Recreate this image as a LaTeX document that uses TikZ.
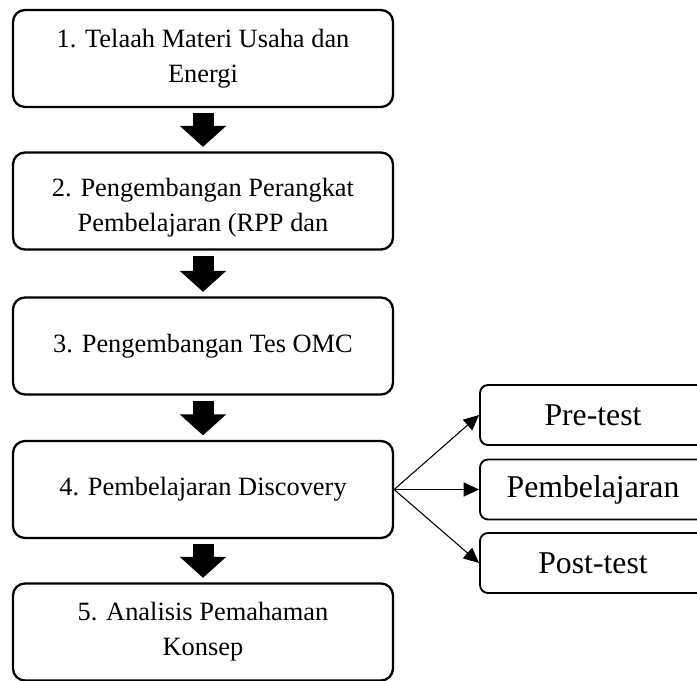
\documentclass[tikz,border=0pt]{standalone}
\usepackage{fontspec}
\setmainfont{Liberation Serif}
\usetikzlibrary{arrows.meta}

\begin{document}
\begin{tikzpicture}[x=0.75pt, y=-0.75pt,
    stagebox/.style={draw, line width=1.7pt, rounded corners=9pt, align=center,
        minimum width=285pt, minimum height=72.75pt, inner sep=0pt,
        font=\fontsize{19.8pt}{26.25pt}\selectfont},
    sidebox/.style={draw, line width=1.4pt, rounded corners=6pt,
        minimum width=169.5pt, minimum height=45pt, inner sep=0pt,
        font=\fontsize{23.8pt}{28pt}\selectfont},
    bigarrow/.style={line width=15.75pt, -{Triangle[length=15.75pt, width=34pt]},
        shorten <=3.75pt, shorten >=3.4pt},
    thinarrow/.style={line width=0.8pt, -{Triangle[length=11.5pt, width=10.5pt]}}]
          \useasboundingbox (0,0) rectangle (697,681);
          \node[stagebox] (telaah) at (203, 58.5) {1. Telaah Materi Usaha dan\\Energi};
          \node[stagebox, text height=50pt] (perangkat) at (203, 201) {2. Pengembangan Perangkat\\Pembelajaran (RPP dan};
          \node[stagebox] (tes) at (203, 346) {3. Pengembangan Tes OMC};
          \node[stagebox] (discovery) at (203, 489.5) {4. Pembelajaran Discovery};
          \node[stagebox] (analisis) at (203, 632) {5. Analisis Pemahaman\\Konsep};
          \node[sidebox] (pretest) at (593, 415) {Pre-test};
          \node[sidebox] (belajar) at (593, 489.5) {Pembelajaran};
          \node[sidebox] (posttest) at (593, 563) {Post-test};
          \draw[bigarrow] (telaah.south) -- (perangkat.north);
          \draw[bigarrow] (perangkat.south) -- (tes.north);
          \draw[bigarrow] (tes.south) -- (discovery.north);
          \draw[bigarrow] (discovery.south) -- (analisis.north);
          \draw[thinarrow] (discovery.east) -- (pretest.west);
          \draw[thinarrow] (discovery.east) -- (belajar.west);
          \draw[thinarrow] (discovery.east) -- (posttest.west);
\end{tikzpicture}
\end{document}
